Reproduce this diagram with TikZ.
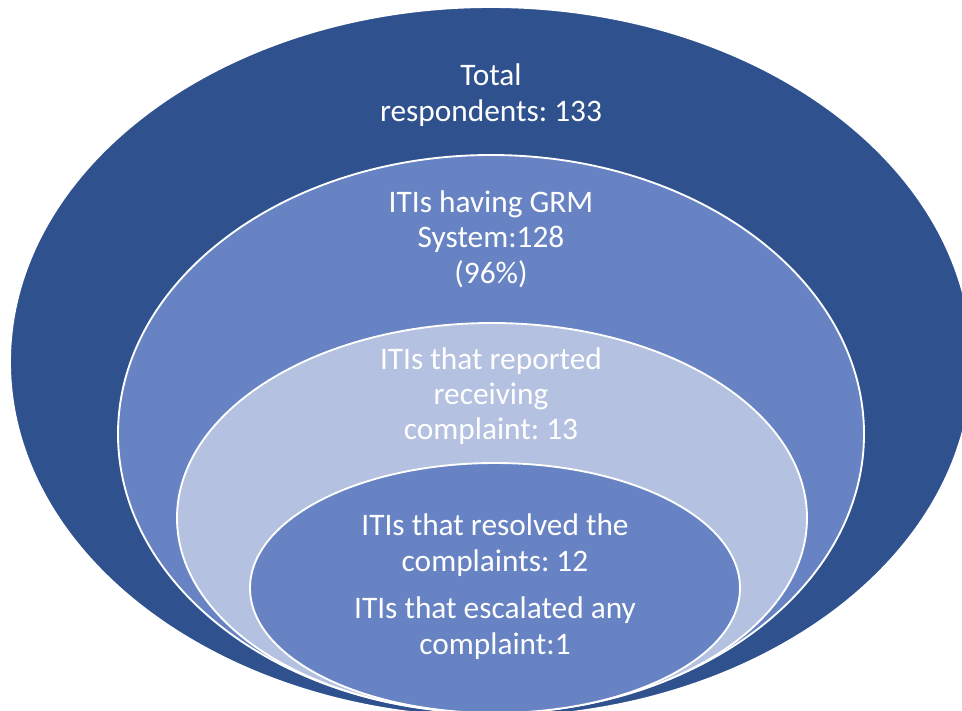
\documentclass[tikz,border=0pt]{standalone}
\usepackage{fontspec}
\setmainfont{Carlito}
\usepackage{tikz}
\frenchspacing
\definecolor{darkblue}{HTML}{2F528F}
\definecolor{midblue}{HTML}{6783C3}
\definecolor{paleblue}{HTML}{B5C1E1}
\tikzstyle{ring}=[draw=white,line width=1.4pt]
\tikzstyle{label}=[text=white,align=center,font=\fontsize{23.5}{26.5}\selectfont,
                   inner sep=0pt]

\begin{document}
\begin{tikzpicture}[x=0.75pt,y=-0.75pt]
    \useasboundingbox (0,0) rectangle (962,710);
    \clip (0,0) rectangle (962,710);
    \fill[white] (0,0) rectangle (962,710);
    \filldraw[ring,fill=darkblue] (491,362) ellipse [x radius=481,y radius=355];
    \filldraw[ring,fill=midblue]  (491,434) ellipse [x radius=373,y radius=279];
    \filldraw[ring,fill=paleblue] (492,518) ellipse [x radius=315,y radius=195];
    \filldraw[ring,fill=midblue]  (495,588) ellipse [x radius=245,y radius=125];
    \node (total) at (491,95) [label]{Total\\respondents: 133};
    \node (grm) at (491,239) [label]{ITIs having GRM\\System:128\\(96\%)};
    \node (received) at (491,396) [label]{ITIs that reported\\receiving\\complaint: 13};
    \node (resolved) at (495,545) [label]{ITIs that resolved the\\complaints: 12};
    \node (escalated) at (495,628) [label]{ITIs that escalated any\\complaint:1};
  \end{tikzpicture}
\end{document}
